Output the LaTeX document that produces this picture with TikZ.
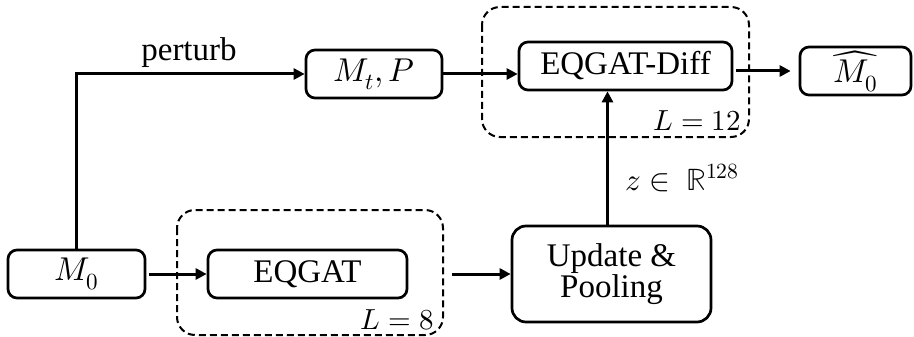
\documentclass[tikz,border=0pt]{standalone}
\usepackage{fontspec}
\usepackage{unicode-math}
\setmainfont{Liberation Serif}
\setmathfont{latinmodern-math.otf}
\usetikzlibrary{arrows.meta}
\begin{document}
\begin{tikzpicture}[x=1pt,y=-1pt,
  box/.style={draw, line width=2.7pt, rounded corners=9pt, inner sep=0pt, font=\fontsize{33}{36}\selectfont},
  grp/.style={draw, line width=2pt, dash pattern=on 7pt off 4pt, rounded corners=18pt},
  arr/.style={line width=3pt, -{Triangle[length=11pt,width=11pt]}},
  lbl/.style={inner sep=0pt, font=\fontsize{33}{36}\selectfont},
  llbl/.style={inner sep=0pt, font=\fontsize{29}{32}\selectfont}]
\useasboundingbox (0,0) rectangle (914,337);
% dashed groups
\draw[grp] (482,7) rectangle (749,137);
\draw[grp] (177,210) rectangle (443,335);
% nodes
\node[box, minimum width=137pt, minimum height=48pt] (m0) at (76.5,274) {$M_0$};
\node[box, minimum width=199pt, minimum height=48pt] (eqgat) at (307.5,274) {EQGAT};
\node[box, minimum width=199pt, minimum height=96pt, align=center, rounded corners=14pt] (upd) at (611.5,274) {Update \&\\[-5pt]Pooling};
\node[box, minimum width=136pt, minimum height=48pt] (mt) at (374,74) {$M_t,P$};
\node[box, minimum width=213pt, minimum height=48pt] (diff) at (625.5,66) {EQGAT-Diff};
\node[box, minimum width=111pt, minimum height=48pt] (hat) at (855.5,71) {$\widehat{M_0}$};
% labels
\node[lbl, anchor=south] (pert) at (189,68) {perturb};
\node[llbl, anchor=south east] (l12) at (741,131) {$L=12$};
\node[llbl, anchor=south east] (l8) at (434,330) {$L=8$};
\node[lbl, anchor=west, font=\fontsize{31}{34}\selectfont] (z) at (625,178) {$z\in\ \mathbb{R}^{128}$};
\coordinate (eqout) at (452,274);
% connectors
\draw[arr] (m0.north) |- (mt.west);
\draw[arr] (mt.east) -- (mt.east -| diff.west);
\draw[arr] ([xshift=3pt]diff.east |- hat.west) -- ([xshift=-8pt]hat.west);
\draw[arr] ([xshift=3pt]m0.east) -- (eqgat.west);
\draw[arr] (eqout) -- (upd.west);
\draw[arr] ([xshift=-4pt]upd.north) -- ([xshift=-4pt]upd.north |- diff.south);
\end{tikzpicture}
\end{document}
